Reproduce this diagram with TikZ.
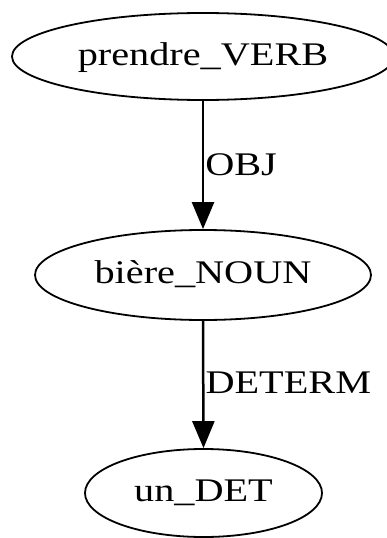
\documentclass[tikz,border=0pt]{standalone}
\usepackage{fontspec}
\setmainfont{Liberation Serif}[FakeStretch=1.22]
\usetikzlibrary{shapes.geometric,arrows.meta}
\begin{document}
\begin{tikzpicture}[x=1pt,y=-1pt,
  word/.style={draw=black, line width=1.8pt, ellipse, inner sep=0pt,
    text height=20pt, text depth=3pt, font=\fontsize{33}{36}\selectfont},
  rel/.style={line width=2.5pt, -{Triangle[length=27pt,width=22pt]}},
  rellabel/.style={anchor=base west, inner sep=0pt, xshift=1pt,
    font=\fontsize{33}{36}\selectfont}]
\useasboundingbox (0,0) rectangle (387,538);
\node[word, minimum width=382pt, minimum height=87pt] (prendre) at (203,56.5) {prendre\_VERB};
\node[word, minimum width=336pt, minimum height=90pt] (biere) at (203,275) {bière\_NOUN};
\node[word, minimum width=237pt, minimum height=88pt] (un) at (203.5,493) {un\_DET};
\draw[rel] (prendre.south) -- node[rellabel, pos=0.578] (obj) {OBJ} (biere.north);
\draw[rel] (biere.south) -- node[rellabel, pos=0.574] (determ) {DETERM} (un.north);
\end{tikzpicture}
\end{document}
